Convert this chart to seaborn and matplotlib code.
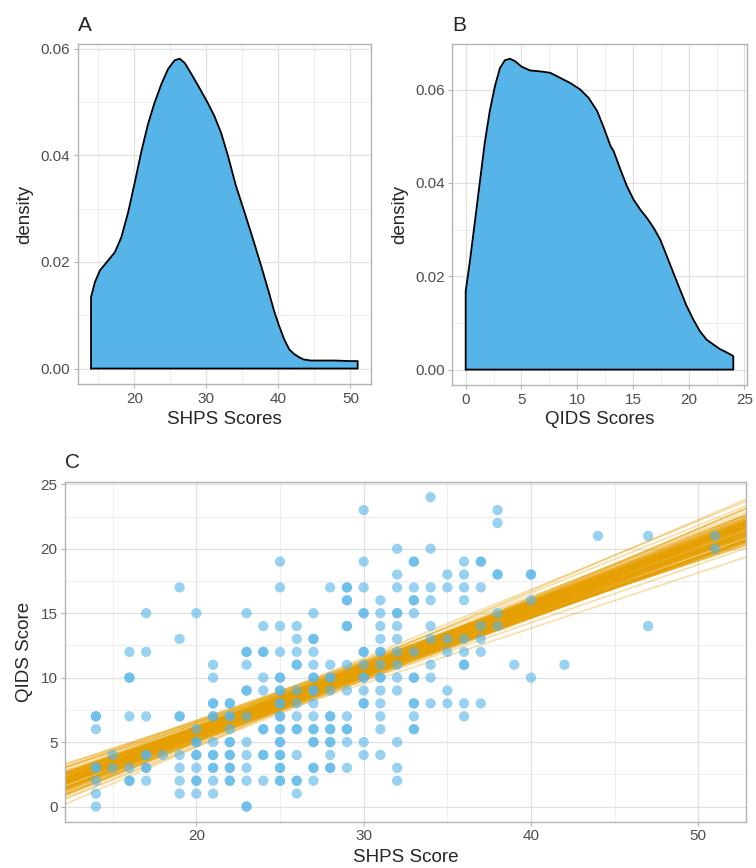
import numpy as np
import pandas as pd
import matplotlib
matplotlib.use("Agg")
import matplotlib.pyplot as plt
import seaborn as sns
from matplotlib.ticker import MultipleLocator, FormatStrFormatter

# ---------------- data ----------------
# Panel A: density curve of SHPS scores
shps_x = [14.0, 14.54, 15.23, 16.15, 17.3, 18.2, 19.15, 20.07, 21.0, 21.9, 22.8, 23.75,
          24.7, 25.6, 26.3, 27.0, 27.9, 29.05, 30.2, 31.1, 32.05, 33.0, 34.1, 35.3, 36.4,
          37.6, 38.7, 39.4, 40.1, 40.8, 41.5, 42.2, 42.9, 43.5, 44.5, 46.1, 47.9, 49.8,
          51.0]
shps_d = [0.0134, 0.0162, 0.0184, 0.0199, 0.0218, 0.0246, 0.0293, 0.0349, 0.0408, 0.0458,
          0.0498, 0.0533, 0.0562, 0.0578, 0.0581, 0.0573, 0.0553, 0.0526, 0.0498, 0.0474,
          0.0442, 0.0399, 0.0343, 0.0293, 0.0246, 0.0193, 0.0142, 0.0108, 0.0080, 0.0055,
          0.0036, 0.0027, 0.0021, 0.0017, 0.0015, 0.0015, 0.0015, 0.0014, 0.0014]

# Panel B: density curve of QIDS scores
qids_x = [0.0, 0.36, 0.81, 1.26, 1.71, 2.16, 2.62, 3.07, 3.52, 3.97, 4.42, 5.02, 5.77,
          6.67, 7.58, 8.48, 9.38, 10.28, 11.03, 11.79, 12.39, 12.99, 13.27, 13.87, 14.46,
          15.06, 15.65, 16.25, 16.85, 17.44, 18.04, 18.63, 19.23, 19.82, 20.42, 21.01,
          21.61, 22.2, 22.8, 23.39, 24.0]
qids_d = [0.0168, 0.0229, 0.0314, 0.0400, 0.0486, 0.0554, 0.0607, 0.0646, 0.0663, 0.0666,
          0.0661, 0.0649, 0.0641, 0.0639, 0.0636, 0.0625, 0.0614, 0.0600, 0.0582, 0.0554,
          0.0518, 0.0479, 0.0468, 0.0429, 0.0393, 0.0364, 0.0343, 0.0325, 0.0304, 0.0279,
          0.0243, 0.0207, 0.0171, 0.0136, 0.0107, 0.0082, 0.0064, 0.0054, 0.0044, 0.0037,
          0.0029]

# Panel C: individual scores (SHPS, QIDS); repeated pairs are overlapping points
pts = {
    14: [7, 7, 6, 3, 3, 2, 1, 0],
    15: [4, 3],
    16: [12, 10, 10, 7, 3, 2, 2],
    17: [15, 12, 7, 4, 4, 3, 3, 2],
    18: [4],
    19: [17, 13, 7, 7, 4, 3, 2, 1],
    20: [15, 6, 5, 5, 4, 4, 3, 2, 2, 1],
    21: [11, 10, 8, 8, 7, 7, 5, 4, 4, 3, 3, 2, 1],
    22: [8, 8, 7, 7, 6, 5, 5, 4, 4, 3, 3, 2, 2],
    23: [15, 12, 12, 11, 9, 9, 7, 5, 4, 3, 2, 0, 0],
    24: [14, 12, 12, 10, 9, 6, 6, 4, 4, 2],
    25: [19, 17, 14, 12, 10, 10, 9, 9, 8, 8, 7, 7, 6, 6, 5, 5, 4, 4, 3, 3, 2, 2],
    26: [14, 13, 12, 11, 11, 9, 8, 7, 6, 6, 4, 2, 2, 1],
    27: [15, 13, 13, 12, 11, 10, 10, 9, 9, 8, 7, 6, 6, 5, 5, 3, 3, 2],
    28: [17, 11, 10, 10, 9, 7, 7, 6, 6, 5, 5, 4, 3, 3],
    29: [17, 17, 16, 16, 14, 14, 11, 9, 7, 6, 6, 5, 3],
    30: [23, 19, 17, 15, 15, 12, 12, 11, 10, 10, 9, 8, 8, 5, 4],
    31: [16, 15, 14, 13, 12, 12, 11, 10, 10, 9, 8, 7, 6, 4],
    32: [20, 18, 17, 15, 15, 14, 13, 12, 11, 10, 9, 5, 3, 2],
    33: [19, 19, 17, 16, 16, 15, 12, 10, 10, 8, 8, 7, 6, 6],
    34: [24, 20, 17, 16, 14, 13, 11, 10, 8],
    35: [18, 17, 13, 12, 9, 8],
    36: [19, 18, 17, 16, 13, 12, 11, 11, 8, 7],
    37: [19, 19, 17, 14, 13, 12, 8],
    38: [23, 22, 18, 18, 15, 14],
    39: [11],
    40: [18, 18, 16, 10],
    42: [11],
    44: [21],
    47: [21, 14],
    51: [21, 20],
}
shps_scores = [x for x, ys in pts.items() for _ in ys]
qids_scores = [y for ys in pts.values() for y in ys]

# Panel C: fitted regression draws: level at SHPS = 28 and slope (centre + draw offsets)
line_pivot = 28
level_centre = 9.55
slope_centre = 0.48
level_offset = [0.12, -0.35, 0.48, -0.62, 0.25, 0.05, -0.15, 0.38, -0.44, 0.70, -0.22, 0.00,
                0.30, -0.55, 0.18, -0.33, 0.85, -0.05, 0.45, -0.72, 0.10, -0.25, 0.22, -0.88,
                0.60, -0.12, 0.33, -0.40, 0.02, 0.52, -0.58, 0.15, -0.08, 0.40, -0.28, 0.75,
                -0.48, 0.20, -0.18, 0.28, -0.32, 0.08, 0.55, -0.68, 0.35, -0.02, 0.42, -0.20,
                0.13, -0.50, 0.65, -0.38, 0.26, -0.10, 0.58, -0.78, 0.04, 0.32, -0.26, 0.90,
                -0.45, 0.17, -0.14, 0.50, -0.60, 0.07, -0.30, 0.36, -0.06, 0.62, -0.42, 0.23,
                -0.17, 0.80, -0.52, 0.11, -0.36, 0.46, -0.04, 0.27,
                0.06, -0.18, 0.24, -0.31, 0.14, -0.09, 0.35, -0.40, 0.01, 0.28, -0.24, 0.19,
                -0.03, 0.42, -0.13, 0.09, -0.36, 0.31, -0.21, 0.16, -0.07, 0.45, -0.28, 0.03,
                0.21, -0.15, 0.37, -0.44, 0.11, -0.01, 0.26, -0.33, 0.17, -0.11, 0.39, -0.19,
                0.07, -0.26, 0.30, -0.05]
slope_offset = [0.010, -0.025, 0.035, -0.005, 0.017, -0.038, 0.002, 0.030, -0.015, 0.046,
                -0.033, 0.007, 0.021, -0.010, 0.057, -0.022, 0.012, -0.044, 0.027, -0.002,
                0.039, -0.029, 0.014, -0.050, 0.006, 0.023, -0.012, 0.033, -0.019, 0.074,
                -0.007, 0.018, -0.035, 0.004, 0.050, -0.026, 0.010, -0.057, 0.025, -0.003,
                0.042, -0.017, 0.014, -0.030, 0.002, 0.066, -0.010, 0.019, -0.041, 0.031,
                -0.014, 0.028, -0.021, 0.009, -0.047, 0.037, -0.008, 0.016, -0.031, 0.052,
                -0.018, 0.003, 0.024, -0.036, 0.044, -0.011, 0.011, -0.063, 0.029, -0.004,
                0.085, -0.024, 0.020, -0.016, 0.036, -0.039, 0.008, -0.001, 0.048, -0.028,
                0.004, -0.012, 0.016, -0.020, 0.009, -0.006, 0.022, -0.015, 0.001, 0.013,
                -0.009, 0.019, -0.003, 0.011, -0.018, 0.007, -0.011, 0.024, -0.002, 0.014,
                -0.016, 0.005, -0.007, 0.018, -0.021, 0.010, -0.004, 0.015, -0.013, 0.003,
                0.020, -0.008, 0.012, -0.019, 0.006, -0.001, 0.017, -0.010, 0.008, -0.014]

# ---------------- style ----------------
sns.set_theme(style="whitegrid")
plt.rcParams["font.family"] = ["Liberation Sans", "DejaVu Sans"]

BLUE = "#56B4E9"
ORANGE = "#E69F00"
BORDER = "#B3B3B3"
GRID = "#E0E0E0"
TICKC = "#4D4D4D"

W, H = 756, 868
fig = plt.figure(figsize=(W / 100, H / 100), dpi=100)


def box(l, t, r, b):
    return [l / W, 1 - b / H, (r - l) / W, (b - t) / H]


axA = fig.add_axes(box(77.7, 44.3, 371.0, 384.0))
axB = fig.add_axes(box(452.3, 44.3, 746.7, 385.0))
axC = fig.add_axes(box(65.0, 481.7, 746.0, 822.0))


def style(ax, xmaj, xmin, ymaj, ymin):
    ax.set_facecolor("white")
    ax.xaxis.set_major_locator(MultipleLocator(xmaj))
    ax.xaxis.set_minor_locator(MultipleLocator(xmin))
    ax.yaxis.set_major_locator(MultipleLocator(ymaj))
    ax.yaxis.set_minor_locator(MultipleLocator(ymin))
    ax.grid(True, which="major", color=GRID, lw=0.9)
    ax.grid(True, which="minor", color="#EBEBEB", lw=0.6)
    for s in ax.spines.values():
        s.set_color(BORDER)
        s.set_linewidth(1.0)
        s.set_visible(True)
    ax.tick_params(which="major", length=3.1, width=0.8, color=BORDER, labelcolor=TICKC,
                   labelsize=11, pad=2.3, bottom=True, left=True)
    ax.tick_params(which="minor", length=0, bottom=False, left=False)
    ax.set_axisbelow(True)


def density_panel(ax, xs, ds):
    px = [xs[0]] + list(xs) + [xs[-1], xs[0]]
    py = [0.0] + list(ds) + [0.0, 0.0]
    ax.fill(px, py, facecolor=BLUE, edgecolor="none", zorder=2)
    df = pd.DataFrame({"x": px, "y": py})
    sns.lineplot(data=df, x="x", y="y", sort=False, estimator=None, color="black",
                 lw=1.3, ax=ax, zorder=3)


LABEL_FS = 13.5

# Panel A
density_panel(axA, shps_x, shps_d)
axA.set_xlim(12.15, 52.85)
axA.set_ylim(-0.0029, 0.0608)
style(axA, 10, 5, 0.02, 0.01)
axA.yaxis.set_major_formatter(FormatStrFormatter("%.2f"))
axA.set_xlabel("SHPS Scores", fontsize=LABEL_FS)
axA.set_ylabel("density", fontsize=LABEL_FS)
axA.xaxis.set_label_coords(0.5, -0.080)
axA.yaxis.set_label_coords(-0.150, 0.5)

# Panel B
density_panel(axB, qids_x, qids_d)
axB.set_xlim(-1.2, 25.2)
axB.set_ylim(-0.0033, 0.0697)
style(axB, 5, 2.5, 0.02, 0.01)
axB.yaxis.set_major_formatter(FormatStrFormatter("%.2f"))
axB.set_xlabel("QIDS Scores", fontsize=LABEL_FS)
axB.set_ylabel("density", fontsize=LABEL_FS)
axB.xaxis.set_label_coords(0.5, -0.077)
axB.yaxis.set_label_coords(-0.148, 0.5)

# Panel C
xs_end = [11.0, 54.0]
rows = []
for i, (lo, so) in enumerate(zip(level_offset, slope_offset)):
    lv = level_centre + lo
    sl = slope_centre + so
    for xe in xs_end:
        rows.append({"draw": i, "x": xe, "y": lv + sl * (xe - line_pivot)})
lines_df = pd.DataFrame(rows)
sns.lineplot(data=lines_df, x="x", y="y", units="draw", estimator=None, color=ORANGE,
             alpha=0.32, lw=1.3, ax=axC, zorder=2)
pts_df = pd.DataFrame({"SHPS": shps_scores, "QIDS": qids_scores})
sns.scatterplot(data=pts_df, x="SHPS", y="QIDS", color=BLUE, alpha=0.6, s=55,
                edgecolor="none", ax=axC, zorder=3)
axC.set_xlim(12.15, 52.85)
axC.set_ylim(-1.2, 25.2)
style(axC, 10, 5, 5, 2.5)
axC.set_xlabel("SHPS Score", fontsize=LABEL_FS)
axC.set_ylabel("QIDS Score", fontsize=LABEL_FS)
axC.xaxis.set_label_coords(0.5, -0.078)
axC.yaxis.set_label_coords(-0.047, 0.5)

# panel tags
fig.text(78 / W, 1 - 31 / H, "A", fontsize=15, va="baseline", ha="left")
fig.text(452 / W, 1 - 31 / H, "B", fontsize=15, va="baseline", ha="left")
fig.text(65 / W, 1 - 468 / H, "C", fontsize=15, va="baseline", ha="left")

fig.savefig("out.png", dpi=100)
